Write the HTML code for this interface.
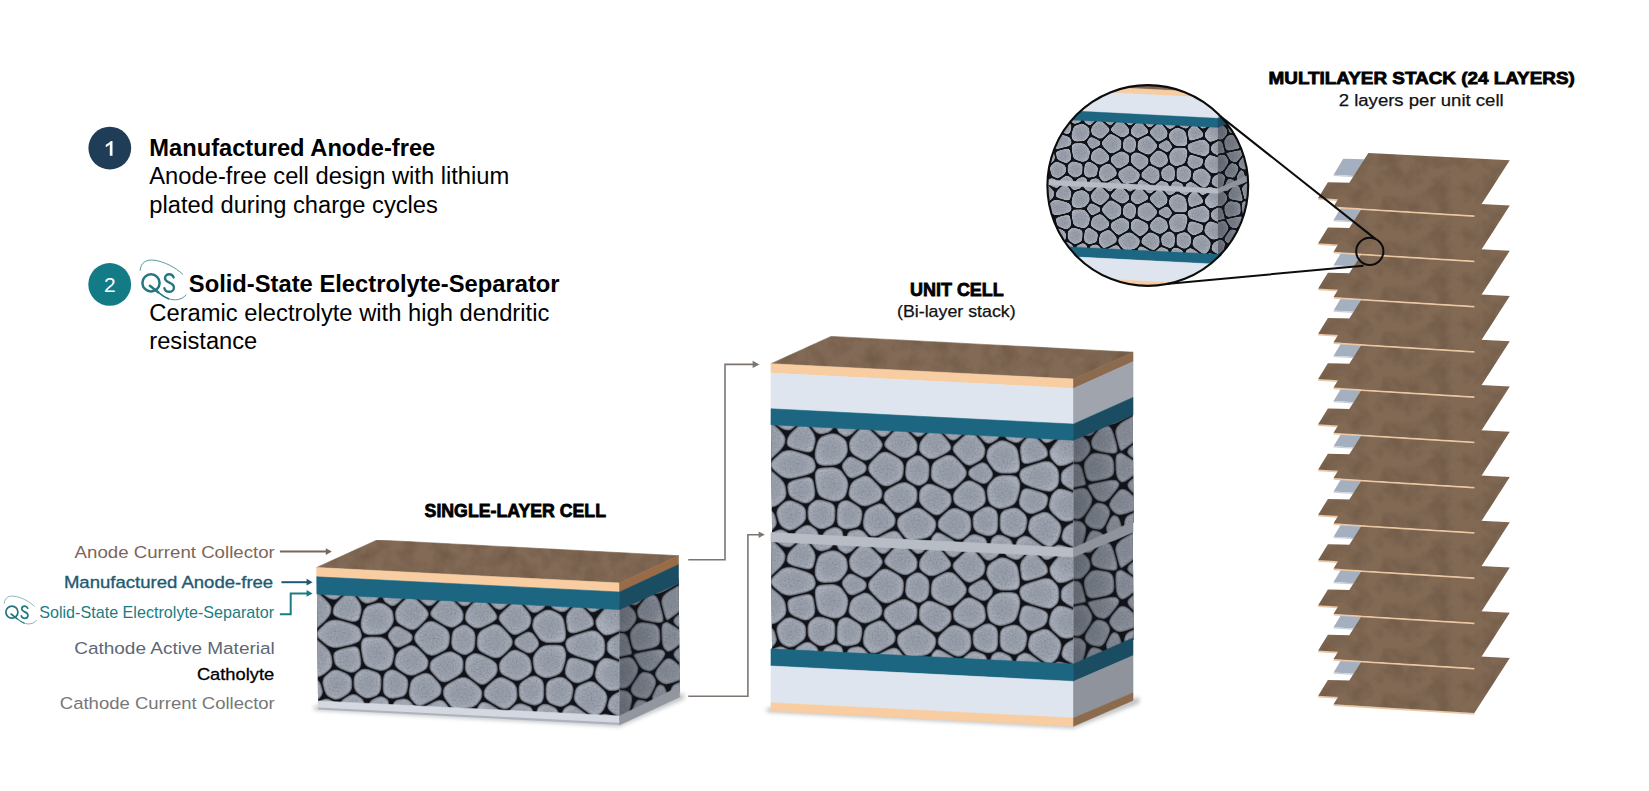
<!DOCTYPE html>
<html><head><meta charset="utf-8"><title>Solid-state cell architecture</title>
<style>
html,body{margin:0;padding:0;background:#fff;}
body{width:1649px;height:791px;overflow:hidden;font-family:"Liberation Sans",sans-serif;}
svg{display:block;}
text{font-family:"Liberation Sans",sans-serif;}
.b{font-weight:bold;}
</style></head>
<body>
<svg width="1649" height="791" viewBox="0 0 1649 791">
<defs>
  <radialGradient id="pg" cx="0.5" cy="0.5" r="0.6">
    <stop offset="0" stop-color="#939aa5"/>
    <stop offset="0.45" stop-color="#979ea9"/>
    <stop offset="0.8" stop-color="#a7adb8"/>
    <stop offset="1" stop-color="#b1b7c1"/>
  </radialGradient>
  <filter id="soft" x="-2%" y="-2%" width="104%" height="104%" color-interpolation-filters="sRGB">
    <feFlood flood-color="#111319" result="dk"/>
    <feComposite in="dk" in2="SourceAlpha" operator="out" result="gap"/>
    <feGaussianBlur in="gap" stdDeviation="1.15" result="gb0"/><feComponentTransfer in="gb0" result="gb"><feFuncA type="linear" slope="1.5" intercept="0"/></feComponentTransfer>
    <feGaussianBlur in="SourceGraphic" stdDeviation="0.45" result="sg"/>
    <feTurbulence type="fractalNoise" baseFrequency="0.55" numOctaves="2" seed="5" result="n"/>
    <feColorMatrix in="n" type="matrix" values="0 0 0 0 0.22  0 0 0 0 0.24  0 0 0 0 0.3  0.55 0 0 0 -0.275" result="nd"/>
    <feColorMatrix in="n" type="matrix" values="0 0 0 0 0.86  0 0 0 0 0.88  0 0 0 0 0.92  0 0.55 0 0 -0.275" result="nl"/>
    <feComposite in="nd" in2="SourceAlpha" operator="in" result="nd2"/>
    <feComposite in="nl" in2="SourceAlpha" operator="in" result="nl2"/>
    <feMerge><feMergeNode in="sg"/><feMergeNode in="nd2"/><feMergeNode in="nl2"/><feMergeNode in="gb"/></feMerge>
  </filter>
  <filter id="softM" x="-2%" y="-2%" width="104%" height="104%" color-interpolation-filters="sRGB">
    <feFlood flood-color="#111319" result="dk"/>
    <feComposite in="dk" in2="SourceAlpha" operator="out" result="gap"/>
    <feGaussianBlur in="gap" stdDeviation="1.35" result="gb0"/><feComponentTransfer in="gb0" result="gb"><feFuncA type="linear" slope="1.5" intercept="0"/></feComponentTransfer>
    <feGaussianBlur in="SourceGraphic" stdDeviation="0.7" result="sg"/>
    <feTurbulence type="fractalNoise" baseFrequency="0.45" numOctaves="2" seed="5" result="n"/>
    <feColorMatrix in="n" type="matrix" values="0 0 0 0 0.22  0 0 0 0 0.24  0 0 0 0 0.3  0.55 0 0 0 -0.275" result="nd"/>
    <feColorMatrix in="n" type="matrix" values="0 0 0 0 0.86  0 0 0 0 0.88  0 0 0 0 0.92  0 0.55 0 0 -0.275" result="nl"/>
    <feComposite in="nd" in2="SourceAlpha" operator="in" result="nd2"/>
    <feComposite in="nl" in2="SourceAlpha" operator="in" result="nl2"/>
    <feMerge><feMergeNode in="sg"/><feMergeNode in="nd2"/><feMergeNode in="nl2"/><feMergeNode in="gb"/></feMerge>
  </filter>
  <filter id="sh" x="-20%" y="-200%" width="140%" height="500%"><feGaussianBlur stdDeviation="2.2"/></filter>
  <filter id="mott" x="0" y="0" width="100%" height="100%" color-interpolation-filters="sRGB">
    <feTurbulence type="fractalNoise" baseFrequency="0.06" numOctaves="3" seed="4" result="n"/>
    <feColorMatrix in="n" type="matrix" values="0 0 0 0 0.33  0 0 0 0 0.25  0 0 0 0 0.18  0.7 0 0 0 -0.27" result="d"/>
    <feComposite in="d" in2="SourceAlpha" operator="in" result="d2"/>
    <feMerge><feMergeNode in="SourceGraphic"/><feMergeNode in="d2"/></feMerge>
  </filter>
  <filter id="grain" x="0" y="0" width="100%" height="100%">
    <feTurbulence type="fractalNoise" baseFrequency="0.9" numOctaves="2" seed="7" result="n"/>
    <feColorMatrix in="n" type="matrix" values="0 0 0 0 0  0 0 0 0 0  0 0 0 0 0  0.9 0.9 0 0 -0.78"/>
  </filter>
  <g id="qs" fill="none" stroke="#23787e" stroke-linecap="round">
    <circle cx="151" cy="282.9" r="8.6" stroke-width="2.5"/>
    <path d="M149.9,285.7 L158.2,292.3" stroke-width="2.4"/>
    <path d="M158.2,292.3 C161.5,295 165,297.4 168.5,298.7" stroke-width="1.6"/>
    <path d="M168.5,298.7 C171.500,299.8 174.6,300.1 177.5,299.6 C181,299 184,297.5 186,295" stroke-width="0.8"/>
    <path d="M140.1,270.4 C140.6,262 147,259.3 154,260.2 C164,261.5 175,267 182.8,274.3" stroke-width="0.75"/>
    <path d="M173.6,277.4 C172.9,275.5 171.4,274.3 169.3,274.3 C166.8,274.3 165,276 165,278.3 C165,283.3 173.9,282 173.9,287.4 C173.9,290 171.8,291.8 169.2,291.8 C166.8,291.8 165,290.5 164.4,288.2" stroke-width="2.4"/>
  </g>
  <linearGradient id="sideShade" x1="0" x2="1" y1="0" y2="0">
    <stop offset="0" stop-color="#12151c" stop-opacity="0.4"/>
    <stop offset="0.5" stop-color="#12151c" stop-opacity="0.24"/>
    <stop offset="1" stop-color="#12151c" stop-opacity="0.1"/>
  </linearGradient>
  <!-- cathode front-face texture, in single-cell screen coordinates -->
  <g id="cfront">
    <polygon points="317,588 619.5,603.5 619.5,722 317,707" fill="#16181e"/>
    <g fill="url(#pg)" filter="url(#soft)">
<path d="M321.9 595.4Q332.2 604.4 331.7 608.2L331.1 612.6Q330.6 616.4 324.6 621.9L317.8 628.1Q311.8 633.6 308.0 633.6L303.8 633.6Q300.0 633.6 300.0 615.3L300.0 594.7Q300.0 576.4 310.3 585.4Z"/>
<path d="M344.9 594.3Q350.3 589.5 354.4 594.8L358.9 600.8Q363.0 606.1 361.5 611.8L359.9 618.1Q358.5 623.8 350.0 621.4L340.4 618.7Q331.9 616.3 332.4 612.5L333.0 608.2Q333.6 604.4 338.9 599.7Z"/>
<path d="M389.1 606.8Q393.1 609.4 393.5 613.7L394.0 618.6Q394.5 623.0 391.4 626.8L387.9 631.1Q384.8 635.0 378.1 635.1L370.7 635.2Q364.0 635.2 362.6 631.8L361.0 628.0Q359.6 624.6 361.1 618.8L362.8 612.3Q364.2 606.5 369.5 604.8L375.5 602.9Q380.8 601.2 384.7 603.8Z"/>
<path d="M422.9 605.0Q428.7 610.5 428.8 612.7L428.9 615.1Q429.0 617.3 424.1 622.1L418.5 627.4Q413.5 632.2 407.8 629.2L401.4 625.8Q395.8 622.7 395.3 618.4L394.8 613.6Q394.4 609.3 399.5 604.2L405.4 598.4Q410.6 593.3 416.4 598.8Z"/>
<path d="M458.3 605.1Q464.0 610.7 463.8 614.3L463.6 618.2Q463.4 621.8 459.5 624.2L455.0 626.9Q451.0 629.4 444.4 625.5L436.9 621.1Q430.3 617.2 430.2 615.0L430.1 612.6Q430.0 610.5 435.3 604.9L441.2 598.7Q446.4 593.2 452.0 598.8Z"/>
<path d="M492.3 607.9Q497.7 614.1 497.4 616.2L497.1 618.5Q496.8 620.6 490.4 623.7L483.2 627.2Q476.8 630.3 472.9 627.6L468.6 624.6Q464.7 621.8 464.9 618.3L465.1 614.3Q465.3 610.7 470.2 605.6L475.8 599.8Q480.8 594.7 486.2 600.9Z"/>
<path d="M527.4 610.5Q532.3 616.2 531.6 620.0L530.8 624.3Q530.1 628.2 524.8 631.0L518.9 634.3Q513.7 637.2 508.7 631.9L503.1 626.0Q498.1 620.8 498.4 618.7L498.7 616.3Q499.0 614.2 504.8 609.2L511.2 603.5Q516.9 598.4 521.8 604.1Z"/>
<path d="M558.5 613.0Q563.6 615.3 564.6 622.0L565.8 629.5Q566.8 636.2 565.7 638.4L564.4 640.9Q563.2 643.1 556.5 643.1L549.0 643.1Q542.3 643.1 538.8 638.4L534.9 633.1Q531.4 628.4 532.1 624.6L532.9 620.2Q533.6 616.4 538.1 613.7L543.2 610.7Q547.8 608.0 552.8 610.3Z"/>
<path d="M588.6 612.5Q593.8 617.6 593.9 620.7L594.1 624.3Q594.2 627.4 585.9 630.0L576.4 632.9Q568.0 635.5 567.0 629.0L565.9 621.6Q564.8 615.1 568.9 610.8L573.5 605.9Q577.5 601.6 582.7 606.7Z"/>
<path d="M623.4 588.6Q636.8 575.0 637.8 575.0L639.0 575.0Q640.0 575.0 640.0 589.9L640.0 606.6Q640.0 621.4 629.2 626.7L617.0 632.6Q606.2 637.8 602.8 634.6L599.0 630.9Q595.6 627.6 595.4 624.4L595.2 620.8Q595.1 617.5 608.4 603.9Z"/>
<path d="M351.8 579.3Q352.1 575.0 361.5 575.0L372.0 575.0Q381.3 575.0 381.0 583.0L380.6 592.0Q380.2 600.0 375.0 601.7L369.1 603.5Q363.9 605.2 359.8 599.8L355.2 593.8Q351.1 588.4 351.4 584.1Z"/>
<path d="M382.3 583.0Q382.6 575.0 391.3 575.0L401.2 575.0Q409.9 575.0 409.9 580.5L409.9 586.6Q409.9 592.1 404.7 597.2L398.8 603.0Q393.6 608.2 389.7 605.6L385.4 602.7Q381.5 600.1 381.9 592.1Z"/>
<path d="M310.8 584.0Q300.3 575.0 316.5 575.0L334.7 575.0Q350.8 575.0 350.5 579.2L350.1 584.0Q349.8 588.3 344.4 593.1L338.3 598.5Q332.9 603.2 322.5 594.2Z"/>
<path d="M411.2 580.5Q411.2 575.0 422.6 575.0L435.4 575.0Q446.7 575.0 446.4 580.4L446.1 586.5Q445.7 591.9 440.5 597.5L434.6 603.7Q429.3 609.3 423.5 603.8L417.0 597.6Q411.2 592.1 411.2 586.6Z"/>
<path d="M447.7 580.4Q448.0 575.0 458.7 575.0L470.6 575.0Q481.2 575.0 480.9 580.9L480.5 587.5Q480.2 593.4 475.2 598.6L469.6 604.4Q464.6 609.5 459.0 603.9L452.7 597.6Q447.0 592.0 447.4 586.5Z"/>
<path d="M482.2 580.9Q482.5 575.0 493.9 575.0L506.7 575.0Q518.1 575.0 517.6 582.1L516.9 590.1Q516.4 597.1 510.6 602.2L504.2 607.9Q498.5 613.0 493.0 606.7L486.9 599.7Q481.5 593.5 481.8 587.6Z"/>
<path d="M518.9 582.1Q519.4 575.0 528.7 575.0L539.2 575.0Q548.4 575.0 548.0 585.2L547.5 596.7Q547.1 606.9 542.6 609.5L537.6 612.5Q533.1 615.1 528.2 609.4L522.6 603.0Q517.7 597.2 518.2 590.1Z"/>
<path d="M549.3 585.2Q549.7 575.0 558.6 575.0L568.7 575.0Q577.6 575.0 577.4 583.1L577.1 592.3Q576.9 600.4 572.7 604.8L568.1 609.7Q564.0 614.1 559.0 611.8L553.4 609.2Q548.4 606.8 548.8 596.6Z"/>
<path d="M578.7 583.1Q578.9 575.0 596.8 575.0L617.0 575.0Q635.0 575.0 622.0 588.2L607.4 603.1Q594.4 616.4 589.2 611.3L583.4 605.5Q578.2 600.4 578.4 592.3Z"/>
<path d="M319.1 639.2Q313.1 634.2 318.9 628.9L325.5 622.8Q331.3 617.5 340.0 619.9L349.8 622.7Q358.4 625.1 359.9 628.6L361.4 632.4Q362.9 635.8 361.6 638.1L360.1 640.7Q358.8 643.0 350.2 645.2L340.5 647.6Q331.8 649.7 325.8 644.8Z"/>
<path d="M389.3 640.1Q385.9 635.6 388.9 631.9L392.3 627.7Q395.3 624.0 401.0 627.0L407.3 630.4Q412.9 633.4 412.8 636.0L412.7 639.0Q412.6 641.7 407.4 644.3L401.5 647.1Q396.3 649.7 393.0 645.2Z"/>
<path d="M419.1 647.1Q413.9 641.9 414.0 639.1L414.1 636.0Q414.3 633.3 419.2 628.5L424.8 623.1Q429.8 618.4 436.4 622.2L443.8 626.6Q450.3 630.5 450.1 636.2L449.7 642.7Q449.5 648.4 443.3 651.6L436.3 655.0Q430.2 658.1 425.0 652.9Z"/>
<path d="M455.2 651.1Q450.8 648.5 451.0 642.7L451.4 636.2Q451.6 630.5 455.6 628.1L460.1 625.4Q464.0 622.9 467.9 625.6L472.2 628.7Q476.0 631.4 475.7 637.5L475.3 644.2Q475.0 650.3 471.7 652.3L467.9 654.6Q464.6 656.6 460.2 654.0Z"/>
<path d="M483.1 653.5Q476.3 650.3 476.6 644.3L477.0 637.5Q477.3 631.5 483.7 628.4L490.9 624.9Q497.3 621.8 502.3 627.1L507.9 633.0Q512.9 638.3 512.9 640.9L512.8 643.8Q512.7 646.4 507.9 650.9L502.5 655.9Q497.7 660.4 490.8 657.2Z"/>
<path d="M519.5 649.2Q514.0 646.3 514.1 643.8L514.2 640.9Q514.2 638.4 519.4 635.5L525.3 632.3Q530.5 629.4 533.9 634.0L537.7 639.2Q541.1 643.8 537.9 647.5L534.3 651.6Q531.1 655.3 525.6 652.4Z"/>
<path d="M577.3 656.8Q568.5 654.0 567.2 650.8L565.6 647.1Q564.3 643.8 565.5 641.6L566.8 639.1Q568.0 636.9 576.5 634.3L586.2 631.3Q594.7 628.6 598.2 631.9L602.0 635.6Q605.4 638.9 605.4 644.0L605.3 649.7Q605.3 654.8 602.3 657.2L599.0 660.0Q596.0 662.5 587.2 659.8Z"/>
<path d="M629.3 628.0Q640.0 622.9 640.0 637.6L640.0 654.2Q640.0 669.0 629.3 664.4L617.3 659.2Q606.6 654.6 606.6 649.6L606.7 644.0Q606.7 639.0 617.4 633.9Z"/>
<path d="M306.5 676.0Q300.0 675.1 300.0 662.2L300.0 647.8Q300.0 634.9 303.8 634.9L308.1 634.9Q311.8 634.9 318.0 640.0L324.9 645.7Q331.1 650.8 331.8 655.9L332.6 661.7Q333.3 666.8 329.1 670.4L324.4 674.4Q320.2 678.0 313.7 677.1Z"/>
<path d="M340.3 669.1Q334.5 666.6 333.9 661.6L333.1 656.0Q332.4 650.9 340.8 648.8L350.3 646.5Q358.7 644.4 359.9 651.4L361.2 659.4Q362.4 666.5 359.2 669.0L355.7 671.8Q352.5 674.3 346.8 671.8Z"/>
<path d="M369.7 668.1Q363.6 666.3 362.5 659.0L361.1 650.9Q359.9 643.7 361.2 641.4L362.7 638.8Q364.0 636.5 370.6 636.5L378.1 636.4Q384.8 636.3 388.2 640.9L392.0 646.0Q395.4 650.6 394.4 655.7L393.1 661.5Q392.1 666.6 389.0 668.3L385.6 670.3Q382.5 672.0 376.5 670.2Z"/>
<path d="M398.7 670.1Q393.4 666.7 394.4 661.6L395.6 656.0Q396.7 650.9 401.9 648.4L407.9 645.5Q413.1 642.9 418.3 648.1L424.2 654.0Q429.4 659.2 428.7 662.5L428.1 666.2Q427.5 669.5 421.9 672.1L415.7 674.9Q410.2 677.5 404.8 674.0Z"/>
<path d="M433.3 674.6Q428.7 669.8 429.3 666.4L430.0 662.7Q430.6 659.4 436.9 656.2L443.8 652.7Q450.1 649.6 454.5 652.2L459.5 655.1Q463.9 657.7 463.7 662.7L463.5 668.4Q463.3 673.5 456.8 677.1L449.5 681.1Q443.0 684.7 438.5 680.0Z"/>
<path d="M470.5 678.0Q464.6 673.5 464.8 668.5L465.0 662.8Q465.2 657.7 468.6 655.7L472.3 653.4Q475.7 651.4 482.5 654.7L490.3 658.4Q497.2 661.6 497.5 665.6L497.9 670.1Q498.2 674.0 493.3 678.3L487.8 683.1Q482.9 687.3 477.1 682.9Z"/>
<path d="M505.2 676.6Q499.5 673.9 499.2 669.9L498.8 665.4Q498.4 661.5 503.3 657.0L508.7 651.9Q513.5 647.5 519.0 650.4L525.1 653.6Q530.6 656.6 531.3 661.8L532.1 667.7Q532.8 673.0 527.8 676.0L522.3 679.5Q517.3 682.5 511.6 679.8Z"/>
<path d="M537.6 675.0Q534.1 672.9 533.4 667.6L532.6 661.6Q531.9 656.3 535.2 652.5L539.0 648.2Q542.3 644.4 548.9 644.4L556.5 644.4Q563.1 644.4 564.5 647.7L566.0 651.4Q567.3 654.6 565.7 660.8L563.8 667.8Q562.1 674.1 556.7 675.8L550.6 677.7Q545.1 679.4 541.6 677.3Z"/>
<path d="M567.2 677.7Q563.4 674.4 565.0 668.3L566.9 661.5Q568.5 655.4 577.1 658.0L586.8 661.0Q595.4 663.7 594.4 668.3L593.4 673.5Q592.4 678.1 586.9 680.3L580.8 682.7Q575.3 684.9 571.5 681.5Z"/>
<path d="M629.1 665.8Q640.0 670.4 640.0 674.1L640.0 678.2Q640.0 681.8 630.3 685.6L619.4 689.7Q609.7 693.5 604.6 688.6L598.8 683.2Q593.7 678.4 594.7 673.6L595.8 668.3Q596.7 663.6 599.7 661.1L603.1 658.3Q606.0 655.8 616.9 660.5Z"/>
<path d="M329.3 697.5Q325.5 695.8 324.1 690.4L322.5 684.3Q321.1 678.9 325.3 675.4L329.9 671.4Q334.1 667.8 339.8 670.3L346.2 673.0Q352.0 675.5 352.1 680.5L352.3 686.2Q352.4 691.2 347.6 694.4L342.2 698.0Q337.3 701.2 333.5 699.5Z"/>
<path d="M357.9 694.0Q353.7 691.2 353.6 686.1L353.4 680.4Q353.3 675.4 356.4 672.8L360.0 670.0Q363.2 667.5 369.2 669.3L375.9 671.4Q381.9 673.2 381.6 679.8L381.3 687.3Q381.0 693.9 376.5 695.9L371.4 698.1Q366.9 700.0 362.7 697.2Z"/>
<path d="M385.1 695.8Q382.3 694.0 382.6 687.3L382.9 679.8Q383.2 673.1 386.2 671.4L389.6 669.5Q392.6 667.8 398.0 671.2L404.0 675.1Q409.4 678.5 408.5 684.2L407.5 690.5Q406.6 696.1 401.6 697.3L396.0 698.5Q391.1 699.7 388.2 697.9Z"/>
<path d="M411.2 700.1Q407.9 696.4 408.8 690.7L409.8 684.3Q410.7 678.7 416.2 676.1L422.4 673.3Q427.9 670.7 432.5 675.6L437.6 681.0Q442.2 685.8 441.9 689.1L441.5 692.8Q441.2 696.2 433.8 699.9L425.6 704.2Q418.3 707.9 415.0 704.2Z"/>
<path d="M460.5 709.8Q453.8 710.9 450.2 706.2L446.1 701.0Q442.4 696.4 442.8 693.0L443.2 689.3Q443.5 686.0 450.0 682.3L457.4 678.3Q463.9 674.6 469.8 679.1L476.4 684.1Q482.3 688.5 482.3 691.8L482.3 695.4Q482.3 698.7 479.9 701.5L477.2 704.7Q474.8 707.5 468.1 708.6Z"/>
<path d="M490.6 702.6Q483.6 698.6 483.6 695.3L483.6 691.7Q483.6 688.5 488.5 684.2L494.1 679.4Q499.0 675.1 504.7 677.8L511.1 680.9Q516.7 683.7 517.1 689.1L517.6 695.3Q517.9 700.7 514.0 704.1L509.5 707.9Q505.5 711.2 498.5 707.2Z"/>
<path d="M524.3 702.6Q519.2 700.5 518.8 695.1L518.4 689.0Q518.0 683.6 523.0 680.6L528.5 677.1Q533.5 674.0 537.0 676.1L540.9 678.4Q544.4 680.5 544.3 687.2L544.2 694.8Q544.2 701.5 541.3 703.2L538.0 705.1Q535.1 706.8 530.1 704.8Z"/>
<path d="M550.3 703.7Q545.5 701.5 545.5 694.8L545.6 687.3Q545.7 680.6 551.1 678.9L557.1 677.0Q562.5 675.3 566.3 678.7L570.6 682.5Q574.4 685.9 573.5 691.0L572.5 696.8Q571.5 701.9 568.0 704.0L564.0 706.3Q560.5 708.3 555.7 706.1Z"/>
<path d="M579.9 707.2Q572.8 702.1 573.7 697.0L574.8 691.2Q575.7 686.1 581.2 684.0L587.4 681.5Q592.9 679.3 598.0 684.2L603.7 689.6Q608.8 694.4 607.5 699.6L606.0 705.5Q604.7 710.7 601.5 713.1L598.0 715.8Q594.8 718.1 587.8 713.0Z"/>
<path d="M630.4 686.9Q640.0 683.2 640.0 697.2L640.0 713.0Q640.0 726.9 629.1 721.8L616.9 715.9Q606.0 710.8 607.3 705.6L608.8 699.8Q610.1 694.7 619.7 691.0Z"/>
<path d="M307.7 706.9Q300.0 712.1 300.0 700.7L300.0 687.8Q300.0 676.4 306.4 677.3L313.5 678.3Q319.9 679.2 321.2 684.6L322.8 690.6Q324.2 696.0 316.4 701.1Z"/>
<path d="M364.2 727.6Q363.3 740.0 355.7 740.0L347.1 740.0Q339.5 740.0 339.0 727.9L338.5 714.4Q338.0 702.3 342.9 699.1L348.3 695.5Q353.1 692.3 357.3 695.1L362.0 698.3Q366.2 701.1 365.2 713.6Z"/>
<path d="M389.1 727.4Q388.5 740.0 380.8 740.0L372.2 740.0Q364.6 740.0 365.5 727.6L366.5 713.6Q367.4 701.2 372.0 699.2L377.0 697.0Q381.5 695.1 384.3 696.9L387.5 698.9Q390.3 700.7 389.7 713.3Z"/>
<path d="M415.7 730.1Q414.9 740.0 406.8 740.0L397.8 740.0Q389.8 740.0 390.4 727.5L391.0 713.4Q391.6 700.9 396.5 699.8L402.0 698.5Q407.0 697.4 410.3 701.1L414.1 705.2Q417.5 708.9 416.6 718.9Z"/>
<path d="M449.6 731.0Q448.0 740.0 437.8 740.0L426.4 740.0Q416.2 740.0 417.0 730.1L417.9 719.0Q418.8 709.1 426.1 705.4L434.3 701.2Q441.6 697.4 445.2 702.0L449.2 707.2Q452.8 711.8 451.3 720.8Z"/>
<path d="M504.9 731.2Q504.9 740.0 496.5 740.0L487.0 740.0Q478.6 740.0 477.7 729.9L476.7 718.5Q475.8 708.3 478.1 705.6L480.8 702.5Q483.1 699.8 490.1 703.8L498.0 708.4Q504.9 712.4 504.9 721.2Z"/>
<path d="M533.7 729.8Q533.3 740.0 524.6 740.0L514.9 740.0Q506.2 740.0 506.2 731.1L506.2 721.2Q506.2 712.3 510.2 708.9L514.7 705.1Q518.7 701.7 523.8 703.7L529.5 706.0Q534.5 708.0 534.1 718.2Z"/>
<path d="M559.1 730.2Q558.8 740.0 551.0 740.0L542.3 740.0Q534.6 740.0 535.0 729.7L535.4 718.2Q535.8 707.9 538.7 706.2L542.0 704.3Q544.8 702.6 549.7 704.8L555.1 707.3Q559.9 709.5 559.5 719.3Z"/>
<path d="M591.1 733.4Q589.7 740.0 580.2 740.0L569.6 740.0Q560.1 740.0 560.4 730.2L560.8 719.2Q561.2 709.5 564.7 707.4L568.6 705.2Q572.1 703.1 579.1 708.3L587.1 714.1Q594.1 719.2 592.7 725.9Z"/>
<path d="M337.7 728.0Q338.2 740.0 326.0 740.0L312.2 740.0Q300.0 740.0 300.0 731.6L300.0 722.1Q300.0 713.7 308.0 708.3L317.0 702.3Q325.0 697.0 328.7 698.7L333.0 700.7Q336.7 702.4 337.2 714.4Z"/>
<path d="M476.4 730.0Q477.3 740.0 468.3 740.0L458.3 740.0Q449.4 740.0 450.9 731.1L452.6 721.1Q454.1 712.1 460.6 711.1L468.0 709.9Q474.6 708.9 475.4 718.8Z"/>
<path d="M628.9 723.1Q640.0 728.4 640.0 732.1L640.0 736.3Q640.0 740.0 624.3 740.0L606.7 740.0Q591.0 740.0 592.4 733.4L594.0 725.9Q595.4 719.3 598.6 716.9L602.1 714.3Q605.3 711.9 616.4 717.2Z"/>
    </g>
  </g>
  <g id="cside">
    <polygon points="619.5,603 681,576 681,694 619.5,723" fill="#121419"/>
    <g fill="url(#pg)" filter="url(#soft)">
<path d="M628.5 604.7Q634.8 609.4 635.7 612.8L636.7 616.7Q637.5 620.1 634.3 624.0L630.7 628.4Q627.5 632.2 623.5 631.9L619.0 631.5Q615.0 631.2 615.0 619.5L615.0 606.4Q615.0 594.8 621.3 599.5Z"/>
<path d="M655.3 595.2Q658.2 596.1 660.2 604.0L662.6 612.9Q664.6 620.8 663.2 621.8L661.6 622.8Q660.2 623.8 653.3 622.5L645.6 621.0Q638.7 619.8 637.8 616.4L636.9 612.6Q636.0 609.2 640.2 604.1L644.9 598.3Q649.1 593.1 652.0 594.1Z"/>
<path d="M680.2 584.2Q690.0 578.7 690.0 586.7L690.0 595.8Q690.0 603.9 683.1 609.2L675.3 615.2Q668.3 620.5 667.5 620.5L666.6 620.5Q665.8 620.5 663.7 612.7L661.4 603.8Q659.4 596.0 669.2 590.4Z"/>
<path d="M642.2 650.6Q633.5 652.4 631.9 646.2L630.1 639.2Q628.4 633.0 631.6 629.1L635.2 624.8Q638.4 620.9 645.3 622.2L652.9 623.6Q659.8 624.9 660.1 631.9L660.4 639.8Q660.8 646.9 652.0 648.6Z"/>
<path d="M683.1 632.0Q690.0 636.9 683.2 642.2L675.5 648.2Q668.7 653.5 666.6 651.5L664.1 649.1Q662.0 647.1 661.6 639.9L661.3 631.9Q661.0 624.7 662.4 623.8L664.0 622.7Q665.5 621.7 666.4 621.7L667.4 621.7Q668.3 621.7 675.3 626.6Z"/>
<path d="M620.4 657.1Q615.0 658.2 615.0 649.9L615.0 640.6Q615.0 632.4 618.9 632.7L623.4 633.1Q627.3 633.4 628.9 639.7L630.8 646.8Q632.5 653.1 632.3 653.6L632.1 654.2Q631.9 654.7 626.5 655.8Z"/>
<path d="M635.7 659.8Q633.0 655.1 633.2 654.7L633.4 654.1Q633.5 653.6 642.4 651.8L652.3 649.8Q661.2 648.0 663.1 649.9L665.2 652.1Q667.1 654.1 662.4 659.9L657.2 666.4Q652.6 672.2 649.0 671.4L644.9 670.5Q641.3 669.7 638.7 665.0Z"/>
<path d="M683.0 668.0Q690.0 674.2 690.0 674.9L690.0 675.6Q690.0 676.2 682.6 679.2L674.3 682.6Q667.0 685.5 664.3 684.3L661.2 683.0Q658.6 681.7 657.0 678.9L655.2 675.8Q653.6 672.9 658.2 667.1L663.5 660.5Q668.1 654.7 675.1 660.9Z"/>
<path d="M619.1 688.4Q615.0 688.1 615.0 678.9L615.0 668.6Q615.0 659.4 620.5 658.3L626.6 657.0Q632.1 655.9 634.7 660.5L637.6 665.6Q640.2 670.2 636.3 676.2L631.9 683.0Q628.0 689.0 623.8 688.7Z"/>
<path d="M639.2 698.2Q634.8 697.4 633.0 694.9L630.9 692.1Q629.0 689.6 632.9 683.6L637.3 676.9Q641.2 670.9 644.8 671.7L648.8 672.6Q652.4 673.4 654.0 676.2L655.8 679.4Q657.4 682.2 654.6 687.9L651.5 694.2Q648.6 699.8 644.2 699.1Z"/>
<path d="M625.3 726.6Q621.4 740.0 619.3 740.0L617.0 740.0Q615.0 740.0 615.0 723.8L615.0 705.5Q615.0 689.3 619.1 689.6L623.8 689.9Q628.0 690.2 629.8 692.7L631.9 695.6Q633.8 698.1 629.8 711.5Z"/>
<path d="M672.6 718.6Q675.5 733.6 667.2 723.0L657.9 711.1Q649.7 700.4 652.5 694.9L655.6 688.6Q658.4 683.0 661.0 684.2L663.9 685.5Q666.4 686.6 669.3 701.7Z"/>
<path d="M615.0 570.7Q615.0 560.0 620.9 560.0L627.5 560.0Q633.4 560.0 638.1 570.3L643.4 582.0Q648.2 592.3 644.0 597.4L639.4 603.1Q635.2 608.2 628.8 603.5L621.5 598.1Q615.0 593.3 615.0 582.6Z"/>
<path d="M683.5 610.4Q690.0 605.4 690.0 615.0L690.0 625.8Q690.0 635.4 683.5 630.8L676.1 625.7Q669.5 621.1 676.1 616.1Z"/>
<path d="M683.6 643.9Q690.0 639.1 690.0 649.8L690.0 661.9Q690.0 672.6 683.6 666.7L676.3 660.1Q669.9 654.2 676.3 649.3Z"/>
<path d="M677.3 738.8Q677.9 740.0 660.2 740.0L640.3 740.0Q622.6 740.0 626.5 726.8L631.0 711.9Q634.9 698.6 639.3 699.4L644.3 700.3Q648.7 701.1 657.4 712.3L667.3 725.0Q676.1 736.3 676.6 737.5Z"/>
<path d="M682.8 680.4Q690.0 677.5 690.0 697.5L690.0 720.0Q690.0 740.0 686.6 740.0L682.7 740.0Q679.3 740.0 678.6 738.6L677.8 737.1Q677.1 735.8 674.1 720.0L670.7 702.3Q667.6 686.6 674.8 683.7Z"/>
<path d="M639.4 570.2Q634.7 560.0 652.4 560.0L672.3 560.0Q690.0 560.0 690.0 565.5L690.0 571.8Q690.0 577.3 680.0 583.0L668.7 589.3Q658.6 595.0 655.6 594.0L652.3 592.9Q649.3 591.9 644.6 581.7Z"/>
    </g>
    <polygon points="619.5,600 681,572 681,695 619.5,722" fill="url(#sideShade)"/>
  </g>
  <clipPath id="cpF"><polygon points="316.9,590 619.5,605.5 619.5,720 318.1,705"/></clipPath>
  <clipPath id="cpS"><polygon points="619.5,605 678.7,578 679.7,692 619.5,721"/></clipPath>
  <clipPath id="cpMag"><circle cx="1147.8" cy="185.5" r="100.2"/></clipPath>

  <!-- UNIT CELL -->
  <g id="unit">
    <!-- top face -->
    <polygon points="771,363.7 831,336.4 1133,352.2 1073.5,379" fill="#826a56" stroke="#826a56" stroke-width="0.6" stroke-linejoin="round" filter="url(#mott)"/>
    <g transform="translate(454,-169.3)"><g clip-path="url(#cpF)"><use href="#cfront"/></g></g>
    <g transform="translate(454,-52.3)"><g clip-path="url(#cpF)"><use href="#cfront"/></g></g>
    <g transform="translate(454,-169.3)"><g clip-path="url(#cpS)"><use href="#cside"/></g></g>
    <g transform="translate(454,-52.3)"><g clip-path="url(#cpS)"><use href="#cside"/></g></g>
    <!-- front face bands -->
    <polygon points="771,363.7 1073.5,379 1073.5,388.4 771,373.1" fill="#f7cda1" stroke="#f7cda1" stroke-width="0.6" stroke-linejoin="round"/>
    <polygon points="771,373.1 1073.5,388.4 1073.5,424.1 771,408.8" fill="#dfe5ee" stroke="#dfe5ee" stroke-width="0.6" stroke-linejoin="round"/>
    <polygon points="771,408.8 1073.5,424.1 1073.5,440.2 771,424.7" fill="#1d6681" stroke="#1d6681" stroke-width="0.6" stroke-linejoin="round"/>
    <polygon points="771,532.6 1073.5,547.9 1073.5,557 771,541.7" fill="#b7bcc5" stroke="#b7bcc5" stroke-width="0.6" stroke-linejoin="round"/>
    <polygon points="771,648.8 1073.5,664.1 1073.5,681.4 771,666" fill="#1d6681" stroke="#1d6681" stroke-width="0.6" stroke-linejoin="round"/>
    <polygon points="771,666 1073.5,681.4 1073.5,718 771,702.7" fill="#dfe5ee" stroke="#dfe5ee" stroke-width="0.6" stroke-linejoin="round"/>
    <polygon points="771,702.7 1073.5,718 1073.5,726.3 771,711" fill="#f7cda1" stroke="#f7cda1" stroke-width="0.6" stroke-linejoin="round"/>
    <!-- side face -->
    <polygon points="1073.5,379 1133,352.2 1133,361.7 1073.5,388.4" fill="#8c6a4e" stroke="#8c6a4e" stroke-width="0.6" stroke-linejoin="round"/>
    <polygon points="1073.5,388.4 1133,361.7 1133,397.4 1073.5,424.1" fill="#a0a5ad" stroke="#a0a5ad" stroke-width="0.6" stroke-linejoin="round"/>
    <polygon points="1073.5,424.1 1133,397.4 1133,415 1073.5,440.2" fill="#1a4d62" stroke="#1a4d62" stroke-width="0.6" stroke-linejoin="round"/>
    <polygon points="1073.5,547.9 1133,521.7 1133,532.3 1073.5,557" fill="#8f949c" stroke="#8f949c" stroke-width="0.6" stroke-linejoin="round"/>
    <polygon points="1073.5,664.1 1133,637.9 1133,655.7 1073.5,681.4" fill="#1a4d62" stroke="#1a4d62" stroke-width="0.6" stroke-linejoin="round"/>
    <polygon points="1073.5,681.4 1133,655.7 1133,692.8 1073.5,718" fill="#8f949c" stroke="#8f949c" stroke-width="0.6" stroke-linejoin="round"/>
    <polygon points="1073.5,718 1133,692.8 1133,700.4 1073.5,726.3" fill="#8c6a4e" stroke="#8c6a4e" stroke-width="0.6" stroke-linejoin="round"/>
  </g>
<g id="cfrontM">
    <polygon points="317,588 619.5,603.5 619.5,722 317,707" fill="#16181e"/>
    <g fill="url(#pg)" filter="url(#softM)">
<path d="M321.5 595.8Q331.7 604.6 331.1 608.3L330.6 612.5Q330.0 616.2 324.1 621.6L317.5 627.6Q311.6 633.0 307.9 633.0L303.7 633.0Q300.0 633.0 300.0 615.2L300.0 595.0Q300.0 577.2 310.1 585.9Z"/>
<path d="M345.1 594.9Q350.2 590.3 354.1 595.4L358.5 601.2Q362.4 606.2 361.0 611.6L359.4 617.7Q358.1 623.1 349.9 620.8L340.7 618.2Q332.5 615.9 333.0 612.3L333.6 608.3Q334.1 604.7 339.2 600.1Z"/>
<path d="M388.8 607.2Q392.6 609.7 393.0 613.9L393.5 618.6Q393.9 622.8 390.9 626.5L387.5 630.7Q384.5 634.4 378.1 634.5L370.8 634.6Q364.4 634.7 363.0 631.4L361.5 627.8Q360.2 624.5 361.6 618.9L363.2 612.6Q364.7 606.9 369.8 605.3L375.6 603.4Q380.7 601.8 384.5 604.3Z"/>
<path d="M422.5 605.4Q428.2 610.7 428.3 612.8L428.4 615.0Q428.5 617.1 423.6 621.7L418.2 626.9Q413.4 631.5 407.9 628.6L401.8 625.3Q396.3 622.4 395.8 618.3L395.4 613.6Q394.9 609.5 399.9 604.5L405.6 599.0Q410.6 594.0 416.2 599.4Z"/>
<path d="M458.0 605.5Q463.4 610.9 463.2 614.3L463.1 618.1Q462.9 621.5 459.1 623.8L454.8 626.4Q451.0 628.7 444.6 624.9L437.3 620.6Q430.9 616.8 430.8 614.9L430.7 612.6Q430.6 610.7 435.7 605.3L441.3 599.3Q446.4 593.9 451.8 599.4Z"/>
<path d="M491.9 608.3Q497.2 614.3 496.9 616.2L496.6 618.3Q496.3 620.2 490.1 623.2L483.1 626.7Q476.8 629.7 473.1 627.1L469.0 624.2Q465.3 621.6 465.5 618.2L465.6 614.4Q465.8 611.0 470.6 606.0L476.0 600.4Q480.8 595.5 486.0 601.5Z"/>
<path d="M527.0 610.8Q531.7 616.3 531.0 620.0L530.3 624.1Q529.6 627.8 524.5 630.6L518.9 633.7Q513.8 636.5 509.0 631.4L503.5 625.7Q498.7 620.6 499.0 618.6L499.3 616.5Q499.5 614.5 505.1 609.6L511.3 604.1Q516.9 599.2 521.6 604.7Z"/>
<path d="M558.2 613.4Q563.1 615.7 564.1 622.2L565.2 629.6Q566.3 636.1 565.2 638.2L563.9 640.5Q562.9 642.6 556.4 642.6L549.1 642.6Q542.6 642.6 539.2 638.0L535.3 632.9Q531.9 628.3 532.6 624.6L533.4 620.4Q534.1 616.7 538.5 614.1L543.4 611.2Q547.8 608.6 552.7 610.9Z"/>
<path d="M588.2 612.9Q593.2 617.8 593.4 620.8L593.5 624.1Q593.7 627.0 585.6 629.5L576.5 632.3Q568.5 634.8 567.5 628.5L566.4 621.5Q565.4 615.3 569.3 611.2L573.7 606.5Q577.5 602.4 582.6 607.3Z"/>
<path d="M624.1 588.7Q637.6 575.0 638.3 575.0L639.2 575.0Q640.0 575.0 640.0 589.7L640.0 606.2Q640.0 620.8 629.2 626.1L617.1 631.9Q606.3 637.2 603.0 634.0L599.4 630.5Q596.1 627.4 595.9 624.3L595.8 620.8Q595.6 617.7 609.1 604.1Z"/>
<path d="M352.3 579.2Q352.7 575.0 361.7 575.0L371.8 575.0Q380.8 575.0 380.4 582.9L380.0 591.7Q379.7 599.6 374.7 601.2L369.1 603.0Q364.1 604.6 360.1 599.3L355.6 593.4Q351.6 588.2 352.0 584.0Z"/>
<path d="M382.8 582.9Q383.2 575.0 391.5 575.0L401.0 575.0Q409.3 575.0 409.3 580.4L409.3 586.5Q409.3 591.9 404.3 596.9L398.6 602.5Q393.5 607.5 389.9 605.0L385.7 602.3Q382.1 599.8 382.4 591.9Z"/>
<path d="M311.3 583.8Q301.2 575.0 316.9 575.0L334.5 575.0Q350.3 575.0 349.9 579.2L349.6 583.8Q349.2 588.0 344.0 592.6L338.1 597.9Q332.9 602.5 322.8 593.7Z"/>
<path d="M411.7 580.4Q411.7 575.0 422.8 575.0L435.2 575.0Q446.2 575.0 445.9 580.3L445.5 586.4Q445.2 591.7 440.1 597.1L434.4 603.1Q429.3 608.5 423.7 603.2L417.4 597.2Q411.7 591.9 411.7 586.5Z"/>
<path d="M448.3 580.4Q448.6 575.0 458.9 575.0L470.4 575.0Q480.7 575.0 480.3 580.8L480.0 587.4Q479.6 593.2 474.8 598.2L469.4 603.8Q464.6 608.8 459.2 603.3L453.1 597.2Q447.6 591.8 447.9 586.4Z"/>
<path d="M482.7 580.9Q483.1 575.0 494.1 575.0L506.5 575.0Q517.6 575.0 517.0 582.0L516.4 589.9Q515.8 596.9 510.3 601.8L504.1 607.3Q498.5 612.2 493.2 606.2L487.3 599.3Q482.0 593.3 482.4 587.4Z"/>
<path d="M519.4 582.1Q520.0 575.0 528.9 575.0L539.0 575.0Q547.9 575.0 547.5 585.1L547.0 596.4Q546.6 606.5 542.3 609.1L537.5 611.9Q533.2 614.4 528.4 608.9L523.0 602.6Q518.2 597.1 518.8 590.0Z"/>
<path d="M549.9 585.1Q550.3 575.0 558.8 575.0L568.5 575.0Q577.0 575.0 576.8 583.1L576.6 592.1Q576.3 600.2 572.3 604.4L567.8 609.2Q563.9 613.4 559.1 611.2L553.7 608.7Q549.0 606.5 549.4 596.4Z"/>
<path d="M579.2 583.1Q579.4 575.0 597.0 575.0L616.7 575.0Q634.2 575.0 621.5 588.0L607.1 602.6Q594.4 615.6 589.4 610.7L583.7 605.1Q578.7 600.2 579.0 592.1Z"/>
<path d="M319.7 639.0Q313.9 634.2 319.5 629.0L325.9 623.2Q331.5 618.1 340.0 620.5L349.5 623.2Q358.0 625.6 359.4 628.9L360.9 632.5Q362.3 635.8 361.0 638.0L359.7 640.4Q358.5 642.5 350.0 644.6L340.5 647.0Q332.0 649.1 326.2 644.4Z"/>
<path d="M389.8 639.9Q386.6 635.7 389.5 632.2L392.6 628.2Q395.5 624.7 400.9 627.6L407.0 630.8Q412.4 633.7 412.3 636.1L412.2 638.9Q412.1 641.4 407.1 643.8L401.5 646.5Q396.5 649.0 393.3 644.7Z"/>
<path d="M419.5 646.7Q414.5 641.6 414.6 639.0L414.7 636.1Q414.8 633.5 419.6 628.9L425.0 623.7Q429.9 619.0 436.2 622.8L443.4 627.0Q449.8 630.8 449.5 636.3L449.2 642.6Q448.9 648.1 443.0 651.1L436.3 654.5Q430.3 657.5 425.2 652.4Z"/>
<path d="M455.6 650.7Q451.3 648.2 451.6 642.6L451.9 636.4Q452.2 630.8 456.0 628.5L460.2 625.9Q464.0 623.6 467.7 626.2L471.8 629.1Q475.5 631.7 475.2 637.5L474.8 644.1Q474.5 650.0 471.3 651.9L467.8 654.0Q464.6 655.9 460.3 653.4Z"/>
<path d="M483.5 653.1Q476.9 649.9 477.2 644.1L477.6 637.6Q477.9 631.9 484.0 628.9L491.0 625.5Q497.1 622.5 502.0 627.6L507.5 633.3Q512.4 638.5 512.3 640.9L512.2 643.7Q512.2 646.1 507.5 650.5L502.2 655.4Q497.6 659.8 490.9 656.6Z"/>
<path d="M519.8 648.7Q514.6 645.9 514.6 643.6L514.7 641.0Q514.8 638.7 519.7 636.0L525.3 632.9Q530.3 630.1 533.6 634.5L537.2 639.4Q540.4 643.7 537.4 647.2L534.0 651.1Q531.0 654.6 525.7 651.9Z"/>
<path d="M566.2 647.0Q564.9 643.9 566.0 641.8L567.2 639.4Q568.3 637.4 576.7 634.8L586.2 631.8Q594.6 629.3 597.9 632.4L601.6 636.0Q604.9 639.1 604.8 644.0L604.8 649.6Q604.7 654.5 601.9 656.9L598.7 659.5Q595.9 661.9 587.2 659.2L577.5 656.3Q568.9 653.6 567.6 650.5Z"/>
<path d="M629.5 628.6Q640.0 623.5 640.0 637.9L640.0 654.0Q640.0 668.4 629.5 663.9L617.6 658.8Q607.1 654.3 607.2 649.5L607.2 644.1Q607.3 639.4 617.7 634.3Z"/>
<path d="M306.4 675.5Q300.0 674.5 300.0 662.0L300.0 647.9Q300.0 635.4 303.7 635.4L307.9 635.4Q311.6 635.4 317.7 640.4L324.5 646.1Q330.6 651.1 331.2 656.0L332.0 661.6Q332.7 666.6 328.6 670.0L324.1 673.9Q320.0 677.4 313.6 676.5Z"/>
<path d="M340.6 668.6Q335.0 666.2 334.4 661.5L333.7 656.1Q333.0 651.4 341.1 649.3L350.2 647.1Q358.3 645.0 359.4 651.8L360.7 659.5Q361.8 666.3 358.8 668.6L355.4 671.3Q352.4 673.7 346.9 671.3Z"/>
<path d="M370.0 667.6Q364.1 665.8 363.0 658.8L361.7 650.8Q360.5 643.8 361.7 641.6L363.1 639.2Q364.3 637.1 370.8 637.0L378.0 636.9Q384.5 636.8 387.8 641.3L391.5 646.3Q394.8 650.8 393.8 655.7L392.6 661.3Q391.6 666.2 388.7 667.9L385.4 669.8Q382.5 671.4 376.6 669.6Z"/>
<path d="M399.2 669.8Q394.0 666.4 395.0 661.6L396.2 656.1Q397.2 651.3 402.2 648.8L407.9 646.0Q413.0 643.6 418.0 648.6L423.7 654.3Q428.8 659.3 428.2 662.5L427.5 666.0Q427.0 669.1 421.6 671.6L415.6 674.4Q410.2 676.8 405.0 673.5Z"/>
<path d="M433.7 674.2Q429.3 669.6 429.9 666.4L430.6 662.9Q431.1 659.7 437.2 656.7L444.0 653.3Q450.0 650.2 454.3 652.7L459.1 655.5Q463.4 658.0 463.2 662.8L463.0 668.3Q462.8 673.1 456.5 676.6L449.4 680.6Q443.1 684.1 438.7 679.4Z"/>
<path d="M470.9 677.6Q465.2 673.3 465.4 668.4L465.6 662.9Q465.8 658.0 469.0 656.1L472.5 653.9Q475.7 652.0 482.4 655.2L489.9 658.8Q496.6 662.0 497.0 665.8L497.3 670.0Q497.6 673.8 492.9 677.9L487.6 682.5Q482.9 686.6 477.2 682.4Z"/>
<path d="M505.5 676.2Q500.0 673.5 499.7 669.7L499.3 665.5Q499.0 661.7 503.7 657.3L508.9 652.5Q513.6 648.1 518.9 650.9L524.8 654.1Q530.1 656.9 530.8 662.0L531.5 667.6Q532.2 672.7 527.4 675.6L522.0 678.9Q517.3 681.9 511.8 679.2Z"/>
<path d="M538.0 674.5Q534.6 672.5 533.9 667.4L533.2 661.6Q532.5 656.5 535.7 652.8L539.3 648.7Q542.5 645.0 549.0 645.0L556.3 645.0Q562.8 645.0 564.1 648.1L565.5 651.6Q566.8 654.7 565.1 660.7L563.3 667.6Q561.7 673.6 556.4 675.3L550.5 677.1Q545.2 678.8 541.8 676.8Z"/>
<path d="M567.7 677.4Q564.0 674.2 565.6 668.4L567.3 661.9Q568.9 656.1 577.1 658.6L586.5 661.5Q594.7 664.1 593.8 668.4L592.9 673.3Q592.0 677.7 586.7 679.8L580.7 682.2Q575.4 684.3 571.7 681.0Z"/>
<path d="M629.2 666.4Q640.0 671.0 640.0 674.3L640.0 678.0Q640.0 681.2 630.4 684.9L619.5 689.1Q609.8 692.8 604.9 688.1L599.3 682.9Q594.3 678.2 595.2 673.6L596.3 668.5Q597.2 663.9 600.1 661.5L603.3 658.8Q606.1 656.5 617.0 661.1Z"/>
<path d="M329.6 697.1Q325.9 695.4 324.6 690.2L323.1 684.3Q321.7 679.1 325.7 675.7L330.2 671.9Q334.2 668.5 339.7 670.8L345.9 673.5Q351.4 675.8 351.6 680.7L351.7 686.1Q351.9 690.9 347.2 694.0L341.9 697.5Q337.3 700.6 333.6 698.9Z"/>
<path d="M358.3 693.6Q354.3 690.9 354.1 686.0L354.0 680.5Q353.8 675.6 356.9 673.2L360.3 670.5Q363.3 668.1 369.1 669.9L375.6 671.9Q381.4 673.6 381.1 680.0L380.7 687.1Q380.4 693.5 376.1 695.4L371.3 697.5Q367.0 699.4 362.9 696.7Z"/>
<path d="M385.5 695.4Q382.8 693.7 383.1 687.2L383.5 679.9Q383.8 673.5 386.6 671.8L389.8 670.0Q392.6 668.4 397.8 671.7L403.6 675.5Q408.8 678.8 407.9 684.2L407.0 690.3Q406.1 695.6 401.3 696.8L396.0 698.0Q391.2 699.1 388.5 697.4Z"/>
<path d="M411.6 699.8Q408.5 696.3 409.3 690.7L410.3 684.5Q411.2 679.0 416.5 676.6L422.5 673.8Q427.8 671.4 432.2 676.1L437.2 681.3Q441.6 686.0 441.3 689.1L441.0 692.7Q440.6 695.8 433.5 699.5L425.5 703.6Q418.4 707.2 415.2 703.7Z"/>
<path d="M460.6 709.2Q454.0 710.3 450.5 705.8L446.5 700.7Q443.0 696.2 443.3 693.0L443.7 689.5Q444.0 686.3 450.4 682.8L457.5 678.8Q463.9 675.3 469.6 679.6L476.0 684.5Q481.8 688.8 481.8 691.9L481.8 695.4Q481.8 698.5 479.4 701.2L476.8 704.3Q474.5 707.0 468.0 708.1Z"/>
<path d="M491.0 702.2Q484.2 698.2 484.2 695.2L484.2 691.8Q484.2 688.7 488.9 684.6L494.3 679.9Q499.1 675.7 504.6 678.4L510.7 681.4Q516.2 684.0 516.6 689.3L517.0 695.2Q517.4 700.5 513.6 703.7L509.3 707.3Q505.5 710.6 498.6 706.6Z"/>
<path d="M524.7 702.1Q519.8 700.2 519.4 695.0L519.0 689.1Q518.6 683.9 523.4 681.0L528.7 677.6Q533.5 674.7 536.8 676.6L540.5 678.8Q543.8 680.8 543.8 687.3L543.7 694.7Q543.6 701.2 540.9 702.8L537.8 704.6Q535.1 706.2 530.2 704.3Z"/>
<path d="M550.6 703.2Q546.0 701.1 546.1 694.7L546.2 687.4Q546.2 681.0 551.4 679.4L557.2 677.5Q562.4 675.9 566.0 679.2L570.2 682.8Q573.8 686.1 572.9 691.1L571.9 696.6Q571.0 701.6 567.7 703.6L563.9 705.8Q560.5 707.7 555.9 705.6Z"/>
<path d="M580.3 706.8Q573.4 701.8 574.3 696.9L575.3 691.4Q576.2 686.5 581.5 684.4L587.4 682.1Q592.7 680.0 597.7 684.7L603.3 689.9Q608.2 694.6 606.9 699.7L605.5 705.4Q604.2 710.4 601.2 712.7L597.8 715.2Q594.8 717.5 588.0 712.5Z"/>
<path d="M630.6 687.4Q640.0 683.8 640.0 697.4L640.0 712.7Q640.0 726.3 629.3 721.3L617.3 715.5Q606.6 710.5 607.9 705.5L609.3 700.0Q610.6 695.1 620.0 691.5Z"/>
<path d="M307.5 706.4Q300.0 711.4 300.0 700.4L300.0 688.0Q300.0 677.0 306.2 677.9L313.2 678.8Q319.4 679.7 320.7 684.9L322.2 690.6Q323.5 695.7 316.0 700.8Z"/>
<path d="M363.7 727.6Q362.8 740.0 355.5 740.0L347.3 740.0Q340.0 740.0 339.6 728.0L339.1 714.6Q338.6 702.6 343.2 699.5L348.4 696.1Q353.1 693.0 357.1 695.7L361.6 698.7Q365.6 701.4 364.7 713.7Z"/>
<path d="M388.5 727.5Q387.9 740.0 380.6 740.0L372.4 740.0Q365.2 740.0 366.1 727.7L367.1 713.9Q368.0 701.6 372.3 699.7L377.2 697.6Q381.5 695.7 384.1 697.4L387.1 699.3Q389.7 701.0 389.1 713.5Z"/>
<path d="M415.1 730.1Q414.3 740.0 406.6 740.0L398.0 740.0Q390.3 740.0 390.9 727.6L391.5 713.7Q392.1 701.4 396.8 700.3L402.1 699.0Q406.8 698.0 410.0 701.5L413.7 705.6Q416.9 709.1 416.1 719.0Z"/>
<path d="M449.0 731.0Q447.5 740.0 437.6 740.0L426.6 740.0Q416.7 740.0 417.5 730.2L418.5 719.3Q419.3 709.5 426.4 705.8L434.3 701.7Q441.4 698.1 444.9 702.5L448.8 707.5Q452.3 711.9 450.7 720.9Z"/>
<path d="M504.4 731.3Q504.4 740.0 496.3 740.0L487.2 740.0Q479.1 740.0 478.2 729.9L477.3 718.6Q476.4 708.5 478.6 705.9L481.0 703.0Q483.2 700.5 490.0 704.4L497.6 708.8Q504.4 712.7 504.4 721.5Z"/>
<path d="M533.1 729.9Q532.7 740.0 524.4 740.0L515.1 740.0Q506.8 740.0 506.8 731.2L506.8 721.4Q506.8 712.6 510.7 709.3L515.0 705.6Q518.8 702.4 523.7 704.3L529.1 706.4Q534.0 708.3 533.6 718.5Z"/>
<path d="M558.6 730.3Q558.2 740.0 550.8 740.0L542.5 740.0Q535.1 740.0 535.5 729.8L536.0 718.4Q536.4 708.2 539.1 706.6L542.2 704.8Q544.9 703.2 549.5 705.3L554.7 707.7Q559.3 709.8 559.0 719.5Z"/>
<path d="M590.5 733.4Q589.1 740.0 580.0 740.0L569.7 740.0Q560.6 740.0 561.0 730.3L561.4 719.5Q561.7 709.8 565.0 707.9L568.7 705.7Q572.0 703.8 578.9 708.8L586.6 714.4Q593.5 719.5 592.1 726.0Z"/>
<path d="M337.2 728.1Q337.6 740.0 325.6 740.0L312.0 740.0Q300.0 740.0 300.0 731.8L300.0 722.5Q300.0 714.3 308.0 709.0L317.0 703.0Q325.0 697.6 328.6 699.3L332.6 701.1Q336.2 702.7 336.7 714.7Z"/>
<path d="M475.9 730.2Q476.7 740.0 468.1 740.0L458.5 740.0Q449.9 740.0 451.4 731.2L453.1 721.4Q454.6 712.6 460.8 711.6L467.8 710.5Q474.1 709.5 474.9 719.3Z"/>
<path d="M628.9 723.7Q640.0 729.0 640.0 732.5L640.0 736.5Q640.0 740.0 624.5 740.0L607.1 740.0Q591.6 740.0 593.0 733.5L594.5 726.2Q595.9 719.6 598.9 717.4L602.4 714.8Q605.4 712.5 616.5 717.8Z"/>
    </g>
  </g>
  <g id="csideM">
    <polygon points="619.5,603 681,576 681,694 619.5,723" fill="#121419"/>
    <g fill="url(#pg)" filter="url(#softM)">
<path d="M628.2 605.1Q634.4 609.7 635.2 613.0L636.1 616.7Q637.0 620.0 633.9 623.8L630.4 628.0Q627.3 631.7 623.4 631.4L618.9 631.0Q615.0 630.7 615.0 619.4L615.0 606.7Q615.0 595.4 621.2 600.0Z"/>
<path d="M655.0 595.6Q657.8 596.5 659.8 604.2L662.0 612.9Q664.1 620.6 662.8 621.5L661.4 622.4Q660.1 623.2 653.4 622.0L645.8 620.6Q639.1 619.3 638.3 616.1L637.4 612.5Q636.5 609.3 640.6 604.3L645.2 598.7Q649.2 593.7 652.0 594.6Z"/>
<path d="M680.4 584.7Q690.0 579.2 690.0 586.9L690.0 595.6Q690.0 603.3 683.0 608.6L675.1 614.6Q668.2 620.0 667.5 620.0L666.8 620.0Q666.2 620.0 664.2 612.4L661.9 603.8Q660.0 596.2 669.6 590.8Z"/>
<path d="M642.3 650.1Q633.9 651.8 632.3 645.8L630.5 639.1Q629.0 633.1 632.1 629.4L635.5 625.2Q638.6 621.5 645.2 622.7L652.7 624.1Q659.3 625.3 659.6 632.1L659.9 639.7Q660.2 646.5 651.8 648.2Z"/>
<path d="M675.3 647.9Q668.6 653.0 666.6 651.0L664.4 648.8Q662.5 646.9 662.1 639.9L661.8 632.0Q661.5 625.0 662.8 624.1L664.3 623.1Q665.6 622.2 666.5 622.2L667.4 622.2Q668.2 622.2 675.0 627.0L682.8 632.4Q689.6 637.2 682.9 642.3Z"/>
<path d="M620.3 656.6Q615.0 657.7 615.0 649.7L615.0 640.8Q615.0 632.9 618.8 633.2L623.1 633.6Q626.9 633.9 628.5 640.0L630.3 646.9Q631.9 653.1 631.8 653.4L631.7 653.9Q631.5 654.2 626.2 655.3Z"/>
<path d="M636.1 659.6Q633.6 655.1 633.7 654.8L633.8 654.4Q633.9 654.0 642.6 652.3L652.3 650.3Q661.0 648.5 662.7 650.3L664.7 652.3Q666.4 654.1 661.9 659.7L656.9 666.0Q652.4 671.7 649.0 670.9L645.1 670.0Q641.6 669.2 639.1 664.7Z"/>
<path d="M683.1 668.6Q690.0 674.9 682.6 678.1L674.3 681.8Q667.0 685.0 664.4 683.8L661.5 682.5Q658.9 681.4 657.4 678.7L655.7 675.7Q654.2 673.0 658.7 667.3L663.8 660.9Q668.4 655.2 675.3 661.5Z"/>
<path d="M619.1 687.9Q615.0 687.6 615.0 678.8L615.0 668.8Q615.0 659.9 620.4 658.8L626.4 657.6Q631.8 656.4 634.3 660.8L637.1 665.8Q639.6 670.2 635.8 676.0L631.5 682.6Q627.7 688.5 623.6 688.2Z"/>
<path d="M639.4 697.7Q635.1 696.9 633.3 694.6L631.4 691.9Q629.6 689.6 633.4 683.8L637.6 677.3Q641.4 671.5 644.8 672.2L648.7 673.1Q652.1 673.8 653.6 676.5L655.4 679.6Q656.9 682.2 654.2 687.7L651.1 693.8Q648.4 699.3 644.1 698.5Z"/>
<path d="M624.8 726.6Q620.8 740.0 619.0 740.0L616.9 740.0Q615.0 740.0 615.0 723.9L615.0 705.9Q615.0 689.8 619.1 690.1L623.6 690.4Q627.7 690.7 629.5 693.1L631.5 695.8Q633.3 698.2 629.3 711.6Z"/>
<path d="M671.9 717.4Q674.6 731.7 666.8 721.7L658.1 710.4Q650.3 700.4 653.0 695.0L656.0 689.0Q658.6 683.7 661.0 684.7L663.6 685.9Q666.0 687.0 668.7 701.3Z"/>
<path d="M615.0 570.5Q615.0 560.0 620.7 560.0L627.1 560.0Q632.8 560.0 637.5 570.3L642.9 581.9Q647.6 592.2 643.6 597.1L639.1 602.7Q635.1 607.6 628.7 602.8L621.4 597.4Q615.0 592.7 615.0 582.2Z"/>
<path d="M683.7 610.8Q690.0 606.0 690.0 615.2L690.0 625.6Q690.0 634.8 683.7 630.4L676.7 625.5Q670.4 621.1 676.7 616.3Z"/>
<path d="M683.8 644.3Q690.0 639.7 690.0 650.0L690.0 661.6Q690.0 671.9 683.8 666.3L676.8 659.9Q670.7 654.2 676.8 649.6Z"/>
<path d="M676.8 738.9Q677.4 740.0 660.0 740.0L640.5 740.0Q623.1 740.0 627.0 726.9L631.4 712.3Q635.3 699.2 639.5 699.9L644.2 700.8Q648.4 701.5 657.1 712.7L666.9 725.3Q675.6 736.6 676.2 737.7Z"/>
<path d="M683.0 680.9Q690.0 678.0 690.0 697.9L690.0 720.2Q690.0 740.0 686.7 740.0L683.1 740.0Q679.8 740.0 679.1 738.6L678.3 737.0Q677.6 735.6 674.6 720.0L671.2 702.5Q668.2 686.9 675.2 684.0Z"/>
<path d="M639.9 570.1Q635.2 560.0 652.8 560.0L672.5 560.0Q690.0 560.0 690.0 565.3L690.0 571.4Q690.0 576.7 679.9 582.4L668.6 588.8Q658.6 594.5 655.7 593.5L652.5 592.5Q649.7 591.5 645.1 581.4Z"/>
    </g>
    <polygon points="619.5,600 681,572 681,695 619.5,722" fill="url(#sideShade)"/>
  </g>
<g id="unitM">
    <!-- top face -->
    <polygon points="771,363.7 831,336.4 1133,352.2 1073.5,379" fill="#826a56" stroke="#826a56" stroke-width="0.6" stroke-linejoin="round" filter="url(#mott)"/>
    <g transform="translate(454,-169.3)"><g clip-path="url(#cpF)"><use href="#cfrontM"/></g></g>
    <g transform="translate(454,-52.3)"><g clip-path="url(#cpF)"><use href="#cfrontM"/></g></g>
    <g transform="translate(454,-169.3)"><g clip-path="url(#cpS)"><use href="#csideM"/></g></g>
    <g transform="translate(454,-52.3)"><g clip-path="url(#cpS)"><use href="#csideM"/></g></g>
    <!-- front face bands -->
    <polygon points="771,363.7 1073.5,379 1073.5,388.4 771,373.1" fill="#f7cda1" stroke="#f7cda1" stroke-width="0.6" stroke-linejoin="round"/>
    <polygon points="771,373.1 1073.5,388.4 1073.5,424.1 771,408.8" fill="#dfe5ee" stroke="#dfe5ee" stroke-width="0.6" stroke-linejoin="round"/>
    <polygon points="771,408.8 1073.5,424.1 1073.5,440.2 771,424.7" fill="#1d6681" stroke="#1d6681" stroke-width="0.6" stroke-linejoin="round"/>
    <polygon points="771,532.6 1073.5,547.9 1073.5,557 771,541.7" fill="#b7bcc5" stroke="#b7bcc5" stroke-width="0.6" stroke-linejoin="round"/>
    <polygon points="771,648.8 1073.5,664.1 1073.5,681.4 771,666" fill="#1d6681" stroke="#1d6681" stroke-width="0.6" stroke-linejoin="round"/>
    <polygon points="771,666 1073.5,681.4 1073.5,718 771,702.7" fill="#dfe5ee" stroke="#dfe5ee" stroke-width="0.6" stroke-linejoin="round"/>
    <polygon points="771,702.7 1073.5,718 1073.5,726.3 771,711" fill="#f7cda1" stroke="#f7cda1" stroke-width="0.6" stroke-linejoin="round"/>
    <!-- side face -->
    <polygon points="1073.5,379 1133,352.2 1133,361.7 1073.5,388.4" fill="#8c6a4e" stroke="#8c6a4e" stroke-width="0.6" stroke-linejoin="round"/>
    <polygon points="1073.5,388.4 1133,361.7 1133,397.4 1073.5,424.1" fill="#a0a5ad" stroke="#a0a5ad" stroke-width="0.6" stroke-linejoin="round"/>
    <polygon points="1073.5,424.1 1133,397.4 1133,415 1073.5,440.2" fill="#1a4d62" stroke="#1a4d62" stroke-width="0.6" stroke-linejoin="round"/>
    <polygon points="1073.5,547.9 1133,521.7 1133,532.3 1073.5,557" fill="#8f949c" stroke="#8f949c" stroke-width="0.6" stroke-linejoin="round"/>
    <polygon points="1073.5,664.1 1133,637.9 1133,655.7 1073.5,681.4" fill="#1a4d62" stroke="#1a4d62" stroke-width="0.6" stroke-linejoin="round"/>
    <polygon points="1073.5,681.4 1133,655.7 1133,692.8 1073.5,718" fill="#8f949c" stroke="#8f949c" stroke-width="0.6" stroke-linejoin="round"/>
    <polygon points="1073.5,718 1133,692.8 1133,700.4 1073.5,726.3" fill="#8c6a4e" stroke="#8c6a4e" stroke-width="0.6" stroke-linejoin="round"/>
  </g>
</defs>

<rect width="1649" height="791" fill="#fff"/>

<!-- ===== bullets ===== -->
<circle cx="109.8" cy="148.1" r="21.4" fill="#1f3d57"/>
<path d="M112.5,155.8 H109.8 V144.5 C108.7,145.6 107.2,146.6 105.8,147.2 V144.7 C107.9,143.7 109.8,142.2 110.8,141 H112.5 Z" fill="#fff"/>
<text class="b" x="149.3" y="155.7" font-size="23.3" textLength="286" lengthAdjust="spacingAndGlyphs" fill="#000">Manufactured Anode-free</text>
<text x="149.3" y="184.1" font-size="23.3" textLength="360" lengthAdjust="spacingAndGlyphs" fill="#000">Anode-free cell design with lithium</text>
<text x="149.3" y="212.7" font-size="23.3" textLength="288.6" lengthAdjust="spacingAndGlyphs" fill="#000">plated during charge cycles</text>

<circle cx="109.7" cy="284.4" r="21.4" fill="#137b85"/>
<text x="109.9" y="292.2" text-anchor="middle" font-size="21" fill="#fff">2</text>
<use href="#qs"/>
<text class="b" x="188.8" y="292.4" font-size="23.3" textLength="370.8" lengthAdjust="spacingAndGlyphs" fill="#000">Solid-State Electrolyte-Separator</text>
<text x="149.3" y="320.9" font-size="23.3" textLength="400" lengthAdjust="spacingAndGlyphs" fill="#000">Ceramic electrolyte with high dendritic</text>
<text x="149.3" y="349.4" font-size="23.3" textLength="108" lengthAdjust="spacingAndGlyphs" fill="#000">resistance</text>

<!-- ===== left labels ===== -->
<g font-size="17.2" lengthAdjust="spacingAndGlyphs">
<text x="74.6" y="557.8" textLength="200.2" lengthAdjust="spacingAndGlyphs" fill="#7b665a">Anode Current Collector</text>
<text x="63.9" y="587.7" textLength="209.3" lengthAdjust="spacingAndGlyphs" fill="#1f5a73" stroke="#1f5a73" stroke-width="0.35">Manufactured Anode-free</text>
<text x="39.2" y="617.6" font-size="15.9" textLength="235" lengthAdjust="spacingAndGlyphs" fill="#1b7c83">Solid-State Electrolyte-Separator</text>
<text x="74.2" y="653.6" textLength="200.6" lengthAdjust="spacingAndGlyphs" fill="#5c6875">Cathode Active Material</text>
<text x="196.9" y="680.4" font-size="16.7" textLength="77.3" lengthAdjust="spacingAndGlyphs" fill="#000" stroke="#000" stroke-width="0.3">Catholyte</text>
<text x="59.8" y="709.3" textLength="215" lengthAdjust="spacingAndGlyphs" fill="#777777">Cathode Current Collector</text>
</g>
<use href="#qs" transform="translate(11.9,612) scale(0.7) translate(-151,-282.8)"/>
<!-- label arrows -->
<g stroke-width="2" fill="none">
  <path d="M279.9,551.6 H326.5" stroke="#76675f"/><polygon points="331.8,551.6 325.8,548.2 325.8,555" fill="#76675f"/>
  <path d="M281.4,582.2 H307.3" stroke="#1f5a73"/><polygon points="312.6,582.2 306.6,578.8 306.6,585.6" fill="#1f5a73"/>
  <path d="M279.9,614.2 H290.7 V593.4 H307.3" stroke="#1b7c83"/><polygon points="312.6,593.4 306.6,590 306.6,596.8" fill="#1b7c83"/>
</g>

<!-- ===== SINGLE-LAYER CELL ===== -->
<text class="b" x="424.6" y="517.4" font-size="18.4" textLength="181.4" lengthAdjust="spacingAndGlyphs" fill="#000" stroke="#000" stroke-width="0.8">SINGLE-LAYER CELL</text>
<g id="single">
  <polygon points="314,710 619.5,726.5 684,699 684,693 619.5,722 314,706" fill="#85898f" filter="url(#sh)" opacity="0.55"/>
  <polygon points="316.6,567.5 377,540 678.5,555.7 619.5,583" fill="#826a56" stroke="#826a56" stroke-width="0.6" stroke-linejoin="round" filter="url(#mott)"/>
  <g clip-path="url(#cpF)"><use href="#cfront"/></g>
  <g clip-path="url(#cpS)"><use href="#cside"/></g>
  <polygon points="316.6,567.5 619.5,583 619.5,592 316.7,576.8" fill="#f7cda1" stroke="#f7cda1" stroke-width="0.6" stroke-linejoin="round"/>
  <polygon points="316.7,576.8 619.5,592 619.5,609.6 316.9,594" fill="#1d6681" stroke="#1d6681" stroke-width="0.6" stroke-linejoin="round"/>
  <polygon points="318.1,700.9 619.5,715.9 619.5,724.9 318.2,709.6" fill="#d3d8e1" stroke="#d3d8e1" stroke-width="0.6" stroke-linejoin="round"/>
  <polygon points="318.2,707.4 619.5,722.7 619.5,724.9 318.2,709.6" fill="#aeb3bb"/>
  <polygon points="619.5,583 678.5,555.7 678.5,564.6 619.5,592" fill="#9a6b47" stroke="#9a6b47" stroke-width="0.6" stroke-linejoin="round"/>
  <polygon points="619.5,592 678.5,564.6 678.5,583.5 619.5,609.6" fill="#1a4d62" stroke="#1a4d62" stroke-width="0.6" stroke-linejoin="round"/>
  <polygon points="619.5,715.9 679.5,686.4 679.8,697 619.5,724.9" fill="#92979f" stroke="#92979f" stroke-width="0.6" stroke-linejoin="round"/>
</g>

<!-- connector arrows -->
<g stroke="#7d7570" stroke-width="1.6" fill="none">
  <path d="M688.2,559.7 H725 V364.4 H754"/>
  <path d="M688.2,696.2 H747.9 V534.7 H759"/>
</g>
<polygon points="759.5,364.4 752.6,360.7 752.6,368.1" fill="#7d7570"/>
<polygon points="764.8,534.7 758.6,531.5 758.6,537.9" fill="#7d7570"/>

<!-- ===== UNIT CELL ===== -->
<text class="b" x="910" y="295.7" font-size="18.4" textLength="93.8" lengthAdjust="spacingAndGlyphs" fill="#000" stroke="#000" stroke-width="0.8">UNIT CELL</text>
<text x="897" y="317.3" font-size="16.4" textLength="118.6" lengthAdjust="spacingAndGlyphs" fill="#111" stroke="#111" stroke-width="0.25">(Bi-layer stack)</text>
<polygon points="767,712 1073.5,728 1139,703 1139,697 1073.5,724 767,708" fill="#85898f" filter="url(#sh)" opacity="0.6"/>
<use href="#unit"/>

<!-- ===== MULTILAYER STACK ===== -->
<text class="b" x="1268.6" y="83.7" font-size="17.2" textLength="306.2" lengthAdjust="spacingAndGlyphs" fill="#000" stroke="#000" stroke-width="0.8">MULTILAYER STACK (24 LAYERS)</text>
<text x="1338.7" y="105.9" font-size="17.3" textLength="165" lengthAdjust="spacingAndGlyphs" fill="#111" stroke="#111" stroke-width="0.25">2 layers per unit cell</text>
<g id="stack">
<g transform="translate(0,497.75)"><polygon points="1343.2,158.8 1364.5,159.3 1353.8,175.9 1333.6,174.7" fill="#a4afbf"/><polygon points="1333.6,174.7 1353.8,175.9 1353.8,177.3 1333.6,176.1" fill="#c9d0da"/><polygon points="1333.6,206.4 1474.4,215.1 1474.4,217 1333.6,208.3" fill="#ecc7a3"/><polygon points="1318.2,197.8 1338,199.1 1338,201 1318.2,199.7" fill="#ecc7a3"/><polygon points="1368.3,152.9 1509.8,160.2 1474.4,215.3 1333.6,206.6 1338,199.3 1318.2,198 1327.9,182.3 1349.3,182.8" fill="#816954" filter="url(#mott)"/></g>
<g transform="translate(0,452.50)"><polygon points="1343.2,158.8 1364.5,159.3 1353.8,175.9 1333.6,174.7" fill="#a4afbf"/><polygon points="1333.6,174.7 1353.8,175.9 1353.8,177.3 1333.6,176.1" fill="#c9d0da"/><polygon points="1333.6,206.4 1474.4,215.1 1474.4,217 1333.6,208.3" fill="#ecc7a3"/><polygon points="1318.2,197.8 1338,199.1 1338,201 1318.2,199.7" fill="#ecc7a3"/><polygon points="1368.3,152.9 1509.8,160.2 1474.4,215.3 1333.6,206.6 1338,199.3 1318.2,198 1327.9,182.3 1349.3,182.8" fill="#816954" filter="url(#mott)"/></g>
<g transform="translate(0,407.25)"><polygon points="1343.2,158.8 1364.5,159.3 1353.8,175.9 1333.6,174.7" fill="#a4afbf"/><polygon points="1333.6,174.7 1353.8,175.9 1353.8,177.3 1333.6,176.1" fill="#c9d0da"/><polygon points="1333.6,206.4 1474.4,215.1 1474.4,217 1333.6,208.3" fill="#ecc7a3"/><polygon points="1318.2,197.8 1338,199.1 1338,201 1318.2,199.7" fill="#ecc7a3"/><polygon points="1368.3,152.9 1509.8,160.2 1474.4,215.3 1333.6,206.6 1338,199.3 1318.2,198 1327.9,182.3 1349.3,182.8" fill="#816954" filter="url(#mott)"/></g>
<g transform="translate(0,362.00)"><polygon points="1343.2,158.8 1364.5,159.3 1353.8,175.9 1333.6,174.7" fill="#a4afbf"/><polygon points="1333.6,174.7 1353.8,175.9 1353.8,177.3 1333.6,176.1" fill="#c9d0da"/><polygon points="1333.6,206.4 1474.4,215.1 1474.4,217 1333.6,208.3" fill="#ecc7a3"/><polygon points="1318.2,197.8 1338,199.1 1338,201 1318.2,199.7" fill="#ecc7a3"/><polygon points="1368.3,152.9 1509.8,160.2 1474.4,215.3 1333.6,206.6 1338,199.3 1318.2,198 1327.9,182.3 1349.3,182.8" fill="#816954" filter="url(#mott)"/></g>
<g transform="translate(0,316.75)"><polygon points="1343.2,158.8 1364.5,159.3 1353.8,175.9 1333.6,174.7" fill="#a4afbf"/><polygon points="1333.6,174.7 1353.8,175.9 1353.8,177.3 1333.6,176.1" fill="#c9d0da"/><polygon points="1333.6,206.4 1474.4,215.1 1474.4,217 1333.6,208.3" fill="#ecc7a3"/><polygon points="1318.2,197.8 1338,199.1 1338,201 1318.2,199.7" fill="#ecc7a3"/><polygon points="1368.3,152.9 1509.8,160.2 1474.4,215.3 1333.6,206.6 1338,199.3 1318.2,198 1327.9,182.3 1349.3,182.8" fill="#816954" filter="url(#mott)"/></g>
<g transform="translate(0,271.50)"><polygon points="1343.2,158.8 1364.5,159.3 1353.8,175.9 1333.6,174.7" fill="#a4afbf"/><polygon points="1333.6,174.7 1353.8,175.9 1353.8,177.3 1333.6,176.1" fill="#c9d0da"/><polygon points="1333.6,206.4 1474.4,215.1 1474.4,217 1333.6,208.3" fill="#ecc7a3"/><polygon points="1318.2,197.8 1338,199.1 1338,201 1318.2,199.7" fill="#ecc7a3"/><polygon points="1368.3,152.9 1509.8,160.2 1474.4,215.3 1333.6,206.6 1338,199.3 1318.2,198 1327.9,182.3 1349.3,182.8" fill="#816954" filter="url(#mott)"/></g>
<g transform="translate(0,226.25)"><polygon points="1343.2,158.8 1364.5,159.3 1353.8,175.9 1333.6,174.7" fill="#a4afbf"/><polygon points="1333.6,174.7 1353.8,175.9 1353.8,177.3 1333.6,176.1" fill="#c9d0da"/><polygon points="1333.6,206.4 1474.4,215.1 1474.4,217 1333.6,208.3" fill="#ecc7a3"/><polygon points="1318.2,197.8 1338,199.1 1338,201 1318.2,199.7" fill="#ecc7a3"/><polygon points="1368.3,152.9 1509.8,160.2 1474.4,215.3 1333.6,206.6 1338,199.3 1318.2,198 1327.9,182.3 1349.3,182.8" fill="#816954" filter="url(#mott)"/></g>
<g transform="translate(0,181.00)"><polygon points="1343.2,158.8 1364.5,159.3 1353.8,175.9 1333.6,174.7" fill="#a4afbf"/><polygon points="1333.6,174.7 1353.8,175.9 1353.8,177.3 1333.6,176.1" fill="#c9d0da"/><polygon points="1333.6,206.4 1474.4,215.1 1474.4,217 1333.6,208.3" fill="#ecc7a3"/><polygon points="1318.2,197.8 1338,199.1 1338,201 1318.2,199.7" fill="#ecc7a3"/><polygon points="1368.3,152.9 1509.8,160.2 1474.4,215.3 1333.6,206.6 1338,199.3 1318.2,198 1327.9,182.3 1349.3,182.8" fill="#816954" filter="url(#mott)"/></g>
<g transform="translate(0,135.75)"><polygon points="1343.2,158.8 1364.5,159.3 1353.8,175.9 1333.6,174.7" fill="#a4afbf"/><polygon points="1333.6,174.7 1353.8,175.9 1353.8,177.3 1333.6,176.1" fill="#c9d0da"/><polygon points="1333.6,206.4 1474.4,215.1 1474.4,217 1333.6,208.3" fill="#ecc7a3"/><polygon points="1318.2,197.8 1338,199.1 1338,201 1318.2,199.7" fill="#ecc7a3"/><polygon points="1368.3,152.9 1509.8,160.2 1474.4,215.3 1333.6,206.6 1338,199.3 1318.2,198 1327.9,182.3 1349.3,182.8" fill="#816954" filter="url(#mott)"/></g>
<g transform="translate(0,90.50)"><polygon points="1343.2,158.8 1364.5,159.3 1353.8,175.9 1333.6,174.7" fill="#a4afbf"/><polygon points="1333.6,174.7 1353.8,175.9 1353.8,177.3 1333.6,176.1" fill="#c9d0da"/><polygon points="1333.6,206.4 1474.4,215.1 1474.4,217 1333.6,208.3" fill="#ecc7a3"/><polygon points="1318.2,197.8 1338,199.1 1338,201 1318.2,199.7" fill="#ecc7a3"/><polygon points="1368.3,152.9 1509.8,160.2 1474.4,215.3 1333.6,206.6 1338,199.3 1318.2,198 1327.9,182.3 1349.3,182.8" fill="#816954" filter="url(#mott)"/></g>
<g transform="translate(0,45.25)"><polygon points="1343.2,158.8 1364.5,159.3 1353.8,175.9 1333.6,174.7" fill="#a4afbf"/><polygon points="1333.6,174.7 1353.8,175.9 1353.8,177.3 1333.6,176.1" fill="#c9d0da"/><polygon points="1333.6,206.4 1474.4,215.1 1474.4,217 1333.6,208.3" fill="#ecc7a3"/><polygon points="1318.2,197.8 1338,199.1 1338,201 1318.2,199.7" fill="#ecc7a3"/><polygon points="1368.3,152.9 1509.8,160.2 1474.4,215.3 1333.6,206.6 1338,199.3 1318.2,198 1327.9,182.3 1349.3,182.8" fill="#816954" filter="url(#mott)"/></g>
<g transform="translate(0,0.00)"><polygon points="1343.2,158.8 1364.5,159.3 1353.8,175.9 1333.6,174.7" fill="#a4afbf"/><polygon points="1333.6,174.7 1353.8,175.9 1353.8,177.3 1333.6,176.1" fill="#c9d0da"/><polygon points="1333.6,206.4 1474.4,215.1 1474.4,217 1333.6,208.3" fill="#ecc7a3"/><polygon points="1318.2,197.8 1338,199.1 1338,201 1318.2,199.7" fill="#ecc7a3"/><polygon points="1368.3,152.9 1509.8,160.2 1474.4,215.3 1333.6,206.6 1338,199.3 1318.2,198 1327.9,182.3 1349.3,182.8" fill="#816954" filter="url(#mott)"/></g>
</g>

<!-- magnifier -->
<g clip-path="url(#cpMag)">
  <rect x="1040" y="80" width="220" height="212" fill="#dfe5ee"/>
  <use href="#unitM" transform="translate(609.3,-122.2) scale(0.567)"/>
</g>
<circle cx="1147.8" cy="185.5" r="100.4" fill="none" stroke="#0c0c0c" stroke-width="2.1"/>
<circle cx="1369.8" cy="251.4" r="13.6" fill="none" stroke="#0c0c0c" stroke-width="2"/>
<path d="M1220.5,116.4 L1375,238.6 M1166,283.9 L1363.5,265.8" stroke="#0c0c0c" stroke-width="2" fill="none"/>
</svg>
</body></html>
